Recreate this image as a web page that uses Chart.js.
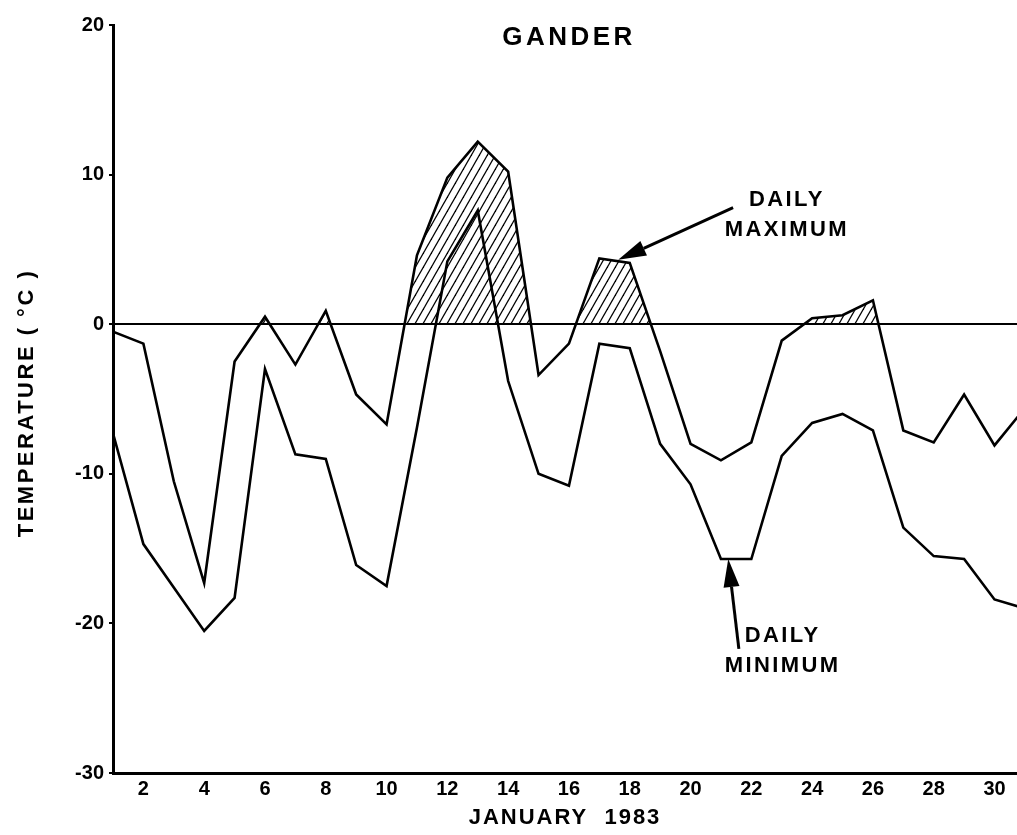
<!DOCTYPE html>
<html>
<head>
<meta charset="utf-8">
<title>Gander – January 1983</title>
<script src="https://cdn.jsdelivr.net/npm/chart.js@4.4.1/dist/chart.umd.min.js"></script>
<style>
  html, body { margin: 0; padding: 0; background: #fff; }
  canvas { display: block; }
</style>
</head>
<body>
<canvas id="chart" width="1017" height="835"></canvas>
<script>
// Daily temperatures at Gander, January 1983 (°C)
const DAYS = [1, 2, 3, 4, 5, 6, 7, 8, 9, 10, 11, 12, 13, 14, 15, 16,
              17, 18, 19, 20, 21, 22, 23, 24, 25, 26, 27, 28, 29, 30, 31];
const DAILY_MAX = [-0.5, -1.3, -10.5, -17.3, -2.5, 0.5, -2.7, 0.9, -4.7, -6.7, 4.6, 9.8, 12.2, 10.2, -3.4, -1.3,
                   4.4, 4.1, -1.8, -8.0, -9.1, -7.9, -1.1, 0.4, 0.6, 1.6, -7.1, -7.9, -4.7, -8.1, -5.6];
const DAILY_MIN = [-7.3, -14.7, -17.6, -20.5, -18.3, -3.0, -8.7, -9.0, -16.1, -17.5, -6.9, 4.2, 7.6, -3.8, -10.0, -10.8,
                   -1.3, -1.6, -8.0, -10.7, -15.7, -15.7, -8.8, -6.6, -6.0, -7.1, -13.6, -15.5, -15.7, -18.4, -19.0];

const DAY_TICKS = [2, 4, 6, 8, 10, 12, 14, 16, 18, 20, 22, 24, 26, 28, 30];
const TEMP_TICKS = [-30, -20, -10, 0, 10, 20];

const STATION = 'GANDER';
const X_TITLE = 'JANUARY  1983';
const Y_TITLE = 'TEMPERATURE ( °C )';

// Callouts: text block centre, arrow tail and arrow tip, all in (day, °C)
const CALLOUT_MAX_TEXT = ['DAILY', 'MAXIMUM'];
const CALLOUT_MAX_AT = [23.17, 7.3];
const CALLOUT_MAX_TAIL = [21.4, 7.8];
const CALLOUT_MAX_TIP = [17.62, 4.3];
const CALLOUT_MIN_TEXT = ['DAILY', 'MINIMUM'];
const CALLOUT_MIN_AT = [23.03, -21.85];
const CALLOUT_MIN_TAIL = [21.59, -21.7];
const CALLOUT_MIN_TIP = [21.24, -15.7];

const FONT = '"Liberation Sans", Arial, Helvetica, sans-serif';

const canvas = document.getElementById('chart');
const ctx2d = canvas.getContext('2d');

// Diagonal hatching used for the above-freezing part of the maximum curve
function makeHatch(ctx) {
  const w = 8, h = 14;
  const tile = document.createElement('canvas');
  tile.width = w; tile.height = h;
  const g = tile.getContext('2d');
  g.strokeStyle = '#000';
  g.lineWidth = 1.3;
  for (const dx of [-w, 0, w]) {
    g.beginPath();
    g.moveTo(dx - 2, h + 3.5);
    g.lineTo(dx + w + 2, -3.5);
    g.stroke();
  }
  return ctx.createPattern(tile, 'repeat');
}

function setFont(ctx, size, spacing) {
  ctx.font = 'bold ' + size + 'px ' + FONT;
  if ('letterSpacing' in ctx) ctx.letterSpacing = spacing + 'px';
}

function drawArrow(ctx, x0, y0, x1, y1) {
  const ang = Math.atan2(y1 - y0, x1 - x0);
  const L = 28, W = 8;
  const bx = x1 - L * Math.cos(ang), by = y1 - L * Math.sin(ang);
  ctx.lineWidth = 3;
  ctx.beginPath();
  ctx.moveTo(x0, y0);
  ctx.lineTo(bx, by);
  ctx.stroke();
  ctx.beginPath();
  ctx.moveTo(x1, y1);
  ctx.lineTo(bx + W * Math.sin(ang), by - W * Math.cos(ang));
  ctx.lineTo(bx - W * Math.sin(ang), by + W * Math.cos(ang));
  ctx.closePath();
  ctx.fill();
}

function drawCallout(ctx, x, y, lines, at, tail, tip) {
  const cx = x.getPixelForValue(at[0]);
  const cy = y.getPixelForValue(at[1]);
  setFont(ctx, 22, 2.4);
  ctx.textAlign = 'center';
  ctx.textBaseline = 'middle';
  ctx.fillText(lines[0], cx, cy - 15);
  ctx.fillText(lines[1], cx, cy + 15);
  drawArrow(ctx,
    x.getPixelForValue(tail[0]), y.getPixelForValue(tail[1]),
    x.getPixelForValue(tip[0]), y.getPixelForValue(tip[1]));
}

const labelsPlugin = {
  id: 'labels',
  afterDraw(chart) {
    const { ctx, chartArea, scales: { x, y } } = chart;
    ctx.save();
    ctx.fillStyle = '#000';
    ctx.strokeStyle = '#000';

    // station name
    setFont(ctx, 26, 3.5);
    ctx.textAlign = 'center';
    ctx.textBaseline = 'middle';
    ctx.fillText(STATION, (chartArea.left + chartArea.right) / 2 + 4, 38);

    // x axis title
    setFont(ctx, 22, 2);
    ctx.fillText(X_TITLE, (chartArea.left + chartArea.right) / 2, 818);

    // y axis title
    ctx.save();
    ctx.translate(27, 403);
    ctx.rotate(-Math.PI / 2);
    setFont(ctx, 22, 2.5);
    ctx.fillText(Y_TITLE, 0, 0);
    ctx.restore();

    drawCallout(ctx, x, y, CALLOUT_MAX_TEXT, CALLOUT_MAX_AT, CALLOUT_MAX_TAIL, CALLOUT_MAX_TIP);
    drawCallout(ctx, x, y, CALLOUT_MIN_TEXT, CALLOUT_MIN_AT, CALLOUT_MIN_TAIL, CALLOUT_MIN_TIP);
    ctx.restore();
  }
};

const tickFont = { family: FONT, weight: 'bold', size: 20 };

new Chart(ctx2d, {
  type: 'line',
  data: {
    datasets: [
      {
        label: 'Daily maximum',
        data: DAYS.map((d, i) => ({ x: d, y: DAILY_MAX[i] })),
        borderColor: '#000',
        borderWidth: 2.6,
        pointRadius: 0,
        tension: 0,
        fill: { target: { value: 0 }, above: makeHatch(ctx2d), below: 'rgba(0,0,0,0)' }
      },
      {
        label: 'Daily minimum',
        data: DAYS.map((d, i) => ({ x: d, y: DAILY_MIN[i] })),
        borderColor: '#000',
        borderWidth: 2.6,
        pointRadius: 0,
        tension: 0,
        fill: false
      }
    ]
  },
  options: {
    responsive: false,
    animation: false,
    devicePixelRatio: 1,
    layout: { padding: { top: 25, left: 0, right: 0, bottom: 0 } },
    plugins: {
      legend: { display: false },
      tooltip: { enabled: false },
      title: { display: false }
    },
    scales: {
      x: {
        type: 'linear',
        min: 1,
        max: 30.74,
        afterBuildTicks: s => { s.ticks = DAY_TICKS.map(v => ({ value: v })); },
        afterFit: s => { s.height = 62; },
        grid: { display: false, drawTicks: false },
        border: { display: true, color: '#000', width: 3 },
        ticks: { color: '#000', font: tickFont, padding: 4, maxRotation: 0, autoSkip: false }
      },
      y: {
        min: -30,
        max: 20,
        afterBuildTicks: s => { s.ticks = TEMP_TICKS.map(v => ({ value: v })); },
        afterFit: s => { s.width = 113; },
        grid: {
          color: c => (c.tick && c.tick.value === 0 ? '#000' : 'rgba(0,0,0,0)'),
          lineWidth: 2,
          tickColor: '#000',
          tickLength: 4,
          drawTicks: true
        },
        border: { display: true, color: '#000', width: 3 },
        ticks: { color: '#000', font: tickFont, padding: 5 }
      }
    }
  },
  plugins: [labelsPlugin]
});
</script>
</body>
</html>
